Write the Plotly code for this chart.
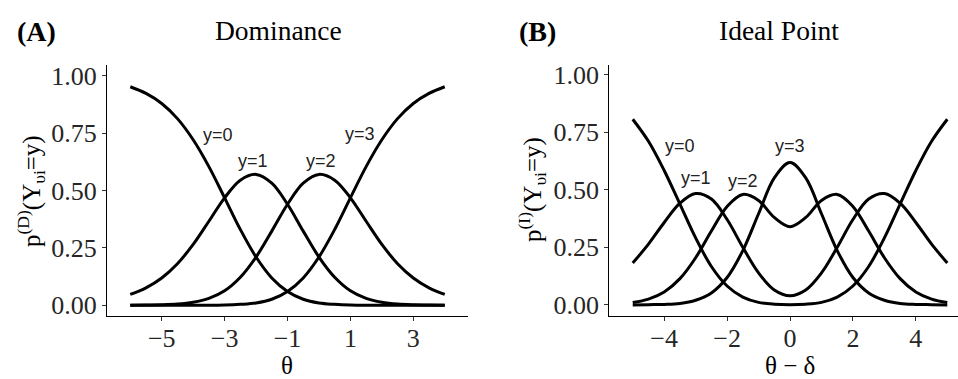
import plotly.graph_objects as go

# ---- data ----
theta = [-6.0, -5.5, -5.0, -4.5, -4.0, -3.5, -3.0, -2.5, -2.0, -1.5, -1.0,
         -0.5, 0.0, 0.5, 1.0, 1.5, 2.0, 2.5, 3.0, 3.5, 4.0]
dom_y0 = [0.952, 0.923, 0.879, 0.813, 0.721, 0.604, 0.468, 0.330, 0.210, 0.119, 0.060,
          0.026, 0.010, 0.004, 0.001, 0.000, 0.000, 0.000, 0.000, 0.000, 0.000]
dom_y1 = [0.047, 0.076, 0.119, 0.181, 0.265, 0.366, 0.468, 0.545, 0.570, 0.532, 0.440,
          0.323, 0.210, 0.122, 0.063, 0.030, 0.013, 0.005, 0.002, 0.001, 0.000]
dom_y2 = [0.000, 0.001, 0.002, 0.005, 0.013, 0.030, 0.063, 0.122, 0.210, 0.323, 0.440,
          0.532, 0.570, 0.545, 0.468, 0.366, 0.265, 0.181, 0.119, 0.076, 0.047]
dom_y3 = [0.000, 0.000, 0.000, 0.000, 0.000, 0.000, 0.001, 0.004, 0.010, 0.026, 0.060,
          0.119, 0.210, 0.330, 0.468, 0.604, 0.721, 0.813, 0.879, 0.923, 0.952]

theta_delta = [-5.0, -4.5, -4.0, -3.5, -3.0, -2.5, -2.0, -1.5, -1.0, -0.5, 0.0,
               0.5, 1.0, 1.5, 2.0, 2.5, 3.0, 3.5, 4.0, 4.5, 5.0]
ideal_y0 = [0.807, 0.711, 0.584, 0.438, 0.291, 0.167, 0.082, 0.034, 0.011, 0.003, 0.001,
            0.003, 0.011, 0.034, 0.082, 0.167, 0.291, 0.438, 0.584, 0.711, 0.807]
ideal_y1 = [0.182, 0.264, 0.358, 0.442, 0.484, 0.460, 0.371, 0.250, 0.139, 0.065, 0.040,
            0.065, 0.139, 0.250, 0.371, 0.460, 0.484, 0.442, 0.358, 0.264, 0.182]
ideal_y2 = [0.010, 0.025, 0.056, 0.114, 0.205, 0.321, 0.428, 0.480, 0.454, 0.380, 0.340,
            0.380, 0.454, 0.480, 0.428, 0.321, 0.205, 0.114, 0.056, 0.025, 0.010]
ideal_y3 = [0.000, 0.001, 0.002, 0.006, 0.020, 0.052, 0.119, 0.236, 0.396, 0.552, 0.619,
            0.552, 0.396, 0.236, 0.119, 0.052, 0.020, 0.006, 0.002, 0.001, 0.000]

curve_labels = ["y=0", "y=1", "y=2", "y=3"]
dom_label_x = [-3.2, -2.1, 0.05, 1.3]
dom_label_y = [0.74, 0.63, 0.63, 0.745]
ideal_label_x = [-3.5, -3.0, -1.5, 0.0]
ideal_label_y = [0.69, 0.55, 0.54, 0.69]

x_ticks_left = [-5, -3, -1, 1, 3]
x_ticks_right = [-4, -2, 0, 2, 4]
y_ticks = [0, 0.25, 0.5, 0.75, 1.0]
y_ticktext = ["0.00", "0.25", "0.50", "0.75", "1.00"]


def tick_text(vals):
    return [("\u2212" + str(abs(v))) if v < 0 else str(v) for v in vals]


W, H = 958, 379
SERIF = "Liberation Serif"
SANS = "Liberation Sans"

fig = go.Figure()
for ys in [dom_y0, dom_y1, dom_y2, dom_y3]:
    fig.add_trace(go.Scatter(x=theta, y=ys, mode="lines",
                             line=dict(color="black", width=3, shape="spline"),
                             xaxis="x", yaxis="y", showlegend=False, hoverinfo="skip"))
for ys in [ideal_y0, ideal_y1, ideal_y2, ideal_y3]:
    fig.add_trace(go.Scatter(x=theta_delta, y=ys, mode="lines",
                             line=dict(color="black", width=3, shape="spline"),
                             xaxis="x2", yaxis="y2", showlegend=False, hoverinfo="skip"))

ax = dict(showline=True, linecolor="black", linewidth=1, ticks="outside", ticklen=4,
          tickcolor="#333333", tickwidth=1, showgrid=False, zeroline=False,
          tickfont=dict(family=SERIF, size=26, color="#262626"))

ydom = [1 - 319 / H, 1 - 62 / H]
fig.update_layout(
    width=W, height=H, margin=dict(l=0, r=0, t=0, b=0),
    plot_bgcolor="white", paper_bgcolor="white",
    xaxis=dict(domain=[107 / W, 467.7 / W], range=[-6.74, 4.73], tickvals=x_ticks_left,
               ticktext=tick_text(x_ticks_left), anchor="y", ticklabelstandoff=-5, **ax),
    yaxis=dict(domain=ydom, range=[-0.048, 1.048], tickvals=y_ticks,
               ticktext=y_ticktext, anchor="x", **ax),
    xaxis2=dict(domain=[609.3 / W, 1.0], range=[-5.745, 5.34], tickvals=x_ticks_right,
                ticktext=tick_text(x_ticks_right), anchor="y2", ticklabelstandoff=-5, **ax),
    yaxis2=dict(domain=ydom, range=[-0.0495, 1.044], tickvals=y_ticks,
                ticktext=y_ticktext, anchor="x2", **ax),
)

ann = []
# curve labels
for t, x, y in zip(curve_labels, dom_label_x, dom_label_y):
    ann.append(dict(x=x, y=y, xref="x", yref="y", text=t, showarrow=False,
                    font=dict(family=SANS, size=18, color="#222222")))
for t, x, y in zip(curve_labels, ideal_label_x, ideal_label_y):
    ann.append(dict(x=x, y=y, xref="x2", yref="y2", text=t, showarrow=False,
                    font=dict(family=SANS, size=18, color="#222222")))


def px(xp, yp, text, size, **kw):
    ann.append(dict(x=xp / W, y=1 - yp / H, xref="paper", yref="paper", text=text,
                    showarrow=False, xanchor="center", yanchor="middle",
                    font=dict(family=SERIF, size=size, color="black"), **kw))


# panel tags and titles
px(36, 28, "<b>(A)</b>", 28)
px(278, 27, "Dominance", 27.5)
px(537, 28, "<b>(B)</b>", 28)
px(779, 27, "Ideal Point", 27.5)
# axis titles
px(287, 369, "\u03b8", 25)
px(790, 369, "\u03b8 \u2212 \u03b4", 25)
px(31, 191, "p<sup>(D)</sup>(Y<sub>\u03c5i</sub>=y)", 25, textangle=-90)
px(532, 190, "p<sup>(I)</sup>(Y<sub>\u03c5i</sub>=y)", 25, textangle=-90)

fig.update_layout(annotations=ann)
fig.write_html("out.html", config={"displayModeBar": False},
               post_script="document.body.style.margin='0';document.body.style.overflow='hidden';")
